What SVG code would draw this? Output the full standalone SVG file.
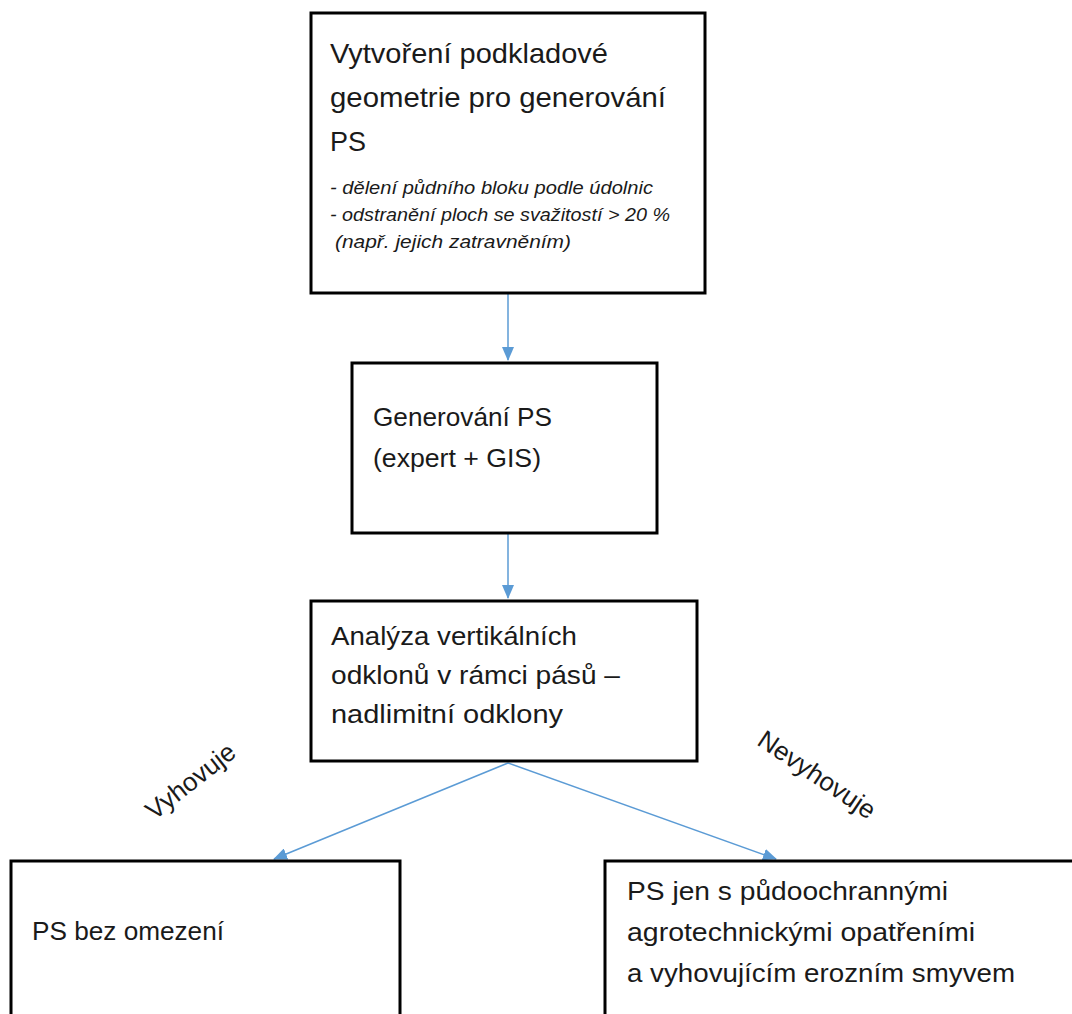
<svg xmlns="http://www.w3.org/2000/svg" width="1072" height="1014" viewBox="0 0 1072 1014">
<defs>
<style>
.box{fill:#fff;stroke:#000;stroke-width:3}
.t{font-family:"Liberation Sans",Arial,sans-serif;font-size:26px;fill:#1a1a1a}
.tl{font-family:"Liberation Sans",Arial,sans-serif;font-size:28px;fill:#1a1a1a}
.it{font-family:"Liberation Sans",Arial,sans-serif;font-size:19px;font-style:italic;fill:#1a1a1a}
.lbl{font-family:"Liberation Sans",Arial,sans-serif;font-size:26px;fill:#1a1a1a}
.c{stroke:#5b9bd5;stroke-width:1.5;fill:none}
</style>
<marker id="ah" markerWidth="14" markerHeight="12" refX="13" refY="6" orient="auto" markerUnits="userSpaceOnUse">
<path d="M0,0 L14,6 L0,12 z" fill="#5b9bd5"/>
</marker>
</defs>
<rect width="1072" height="1014" fill="#fff"/>
<g id="connectors">
<line class="c" x1="508" y1="294" x2="508" y2="360" marker-end="url(#ah)"/>
<line class="c" x1="508" y1="534" x2="508" y2="598" marker-end="url(#ah)"/>
<line class="c" x1="508" y1="763" x2="274" y2="859" marker-end="url(#ah)"/>
<line class="c" x1="508" y1="763" x2="776" y2="859" marker-end="url(#ah)"/>
</g>
<g id="n1">
<rect class="box" x="311" y="13" width="394" height="280"/>
<text class="tl" x="330" y="63" textLength="278" lengthAdjust="spacingAndGlyphs">Vytvoření podkladové</text>
<text class="tl" x="330" y="107" textLength="336" lengthAdjust="spacingAndGlyphs">geometrie pro generování</text>
<text class="tl" x="330" y="151" textLength="36" lengthAdjust="spacingAndGlyphs">PS</text>
<text class="it" x="330" y="194" textLength="323" lengthAdjust="spacingAndGlyphs">- dělení půdního bloku podle údolnic</text>
<text class="it" x="330" y="221" textLength="340" lengthAdjust="spacingAndGlyphs">- odstranění ploch se svažitostí &gt; 20 %</text>
<text class="it" x="335" y="248" textLength="236" lengthAdjust="spacingAndGlyphs">(např. jejich zatravněním)</text>
</g>
<g id="n2">
<rect class="box" x="352" y="363" width="305" height="170"/>
<text class="t" x="373" y="426" textLength="179" lengthAdjust="spacingAndGlyphs">Generování PS</text>
<text class="t" x="373" y="467" textLength="168" lengthAdjust="spacingAndGlyphs">(expert + GIS)</text>
</g>
<g id="n3">
<rect class="box" x="311" y="601" width="386" height="160"/>
<text class="t" x="331" y="645" textLength="246" lengthAdjust="spacingAndGlyphs">Analýza vertikálních</text>
<text class="t" x="331" y="684" textLength="289" lengthAdjust="spacingAndGlyphs">odklonů v rámci pásů –</text>
<text class="t" x="331" y="723" textLength="232" lengthAdjust="spacingAndGlyphs">nadlimitní odklony</text>
</g>
<g id="n4">
<rect class="box" x="11" y="861" width="389" height="170"/>
<text class="t" x="32" y="940" textLength="192" lengthAdjust="spacingAndGlyphs">PS bez omezení</text>
</g>
<g id="n5">
<rect class="box" x="605" y="861" width="480" height="170"/>
<text class="t" x="627" y="900" textLength="321" lengthAdjust="spacingAndGlyphs">PS jen s půdoochrannými</text>
<text class="t" x="627" y="941" textLength="348" lengthAdjust="spacingAndGlyphs">agrotechnickými opatřeními</text>
<text class="t" x="627" y="982" textLength="388" lengthAdjust="spacingAndGlyphs">a vyhovujícím erozním smyvem</text>
</g>
<g id="labels">
<text class="lbl" transform="translate(196,788) rotate(-38)" text-anchor="middle">Vyhovuje</text>
<text class="lbl" transform="translate(812,782) rotate(34)" text-anchor="middle">Nevyhovuje</text>
</g>
</svg>
